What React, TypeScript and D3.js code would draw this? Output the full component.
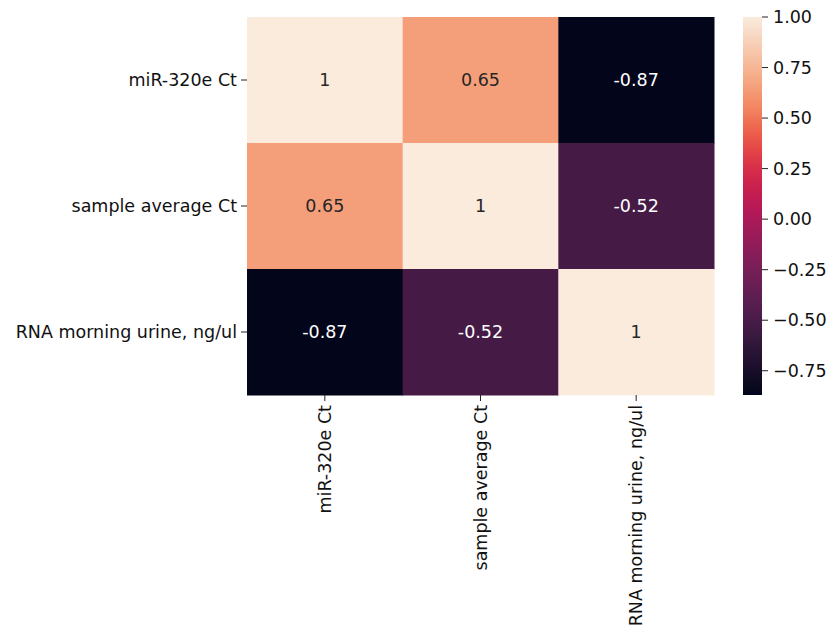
import React from "react";
import * as d3 from "d3";

const labels = ["miR-320e Ct", "sample average Ct", "RNA morning urine, ng/ul"];
const matrix = [
  [1, 0.65, -0.87],
  [0.65, 1, -0.52],
  [-0.87, -0.52, 1],
];
const cbarTicks = [1.0, 0.75, 0.5, 0.25, 0.0, -0.25, -0.5, -0.75];
const rocketStops = ["#03051A", "#221331", "#4B1D4B", "#6A1F56", "#921C5B", "#B91657", "#D92847", "#F06346", "#F59C73", "#F6C3A5", "#FAEBDD"];

const W = 838, H = 635;
const left = 247, right = 714, top = 17, bottom = 395;
const cbX = 743, cbW = 19;
const font = "DejaVu Sans, sans-serif";
const fs = 17.5;

export default function App() {
  const vmin = -0.87, vmax = 1.0;
  const interp = d3.interpolateRgbBasis(rocketStops);
  const color = (v: number) => interp((v - vmin) / (vmax - vmin));
  const x = d3.scaleBand().domain(labels).range([left, right]);
  const y = d3.scaleBand().domain(labels).range([top, bottom]);
  const cy = d3.scaleLinear().domain([vmin, vmax]).range([bottom, top]);
  const gradStops = d3.range(0, 51).map((k) => k / 50);
  const fmt = (v: number) => {
    const s = Math.abs(v).toFixed(2);
    return v < 0 ? "\u2212" + s : s;
  };
  const cellFmt = (v: number) => (v === 1 ? "1" : (v < 0 ? "-" : "") + Math.abs(v).toFixed(2));
  return (
    <svg width={W} height={H} style={{ display: "block", position: "absolute", left: 0, top: 0 }} fontFamily={font}>
      <defs>
        <linearGradient id="cbar" x1="0" y1="1" x2="0" y2="0">
          {gradStops.map((t) => (
            <stop key={t} offset={`${t * 100}%`} stopColor={interp(t)} />
          ))}
        </linearGradient>
      </defs>
      <rect width={W} height={H} fill="white" />
      {matrix.map((row, i) =>
        row.map((v, j) => {
          const t = (v - vmin) / (vmax - vmin);
          return (
            <g key={`${i}-${j}`}>
              <rect x={x(labels[j])!} y={y(labels[i])!} width={x.bandwidth() + 0.5} height={y.bandwidth() + 0.5} fill={color(v)} />
              <text
                x={x(labels[j])! + x.bandwidth() / 2}
                y={y(labels[i])! + y.bandwidth() / 2}
                textAnchor="middle"
                dominantBaseline="central"
                fontSize={fs}
                fill={t > 0.6 ? "#262626" : "#ffffff"}
              >
                {cellFmt(v)}
              </text>
            </g>
          );
        })
      )}
      {labels.map((l) => (
        <g key={"y" + l}>
          <line x1={left - 6} x2={left} y1={y(l)! + y.bandwidth() / 2} y2={y(l)! + y.bandwidth() / 2} stroke="#222" strokeWidth={1} />
          <text x={left - 10} y={y(l)! + y.bandwidth() / 2} textAnchor="end" dominantBaseline="central" fontSize={fs} fill="#111">
            {l}
          </text>
        </g>
      ))}
      {labels.map((l) => {
        const cx = x(l)! + x.bandwidth() / 2;
        return (
          <g key={"x" + l}>
            <line x1={cx} x2={cx} y1={bottom} y2={bottom + 6} stroke="#222" strokeWidth={1} />
            <text transform={`translate(${cx},${bottom + 10}) rotate(-90)`} textAnchor="end" dominantBaseline="central" fontSize={fs} fill="#111">
              {l}
            </text>
          </g>
        );
      })}
      <rect x={cbX} y={cy(vmax)} width={cbW} height={cy(vmin) - cy(vmax)} fill="url(#cbar)" />
      {cbarTicks.map((t) => (
        <g key={"t" + t}>
          <line x1={cbX + cbW} x2={cbX + cbW + 6} y1={cy(t)} y2={cy(t)} stroke="#222" strokeWidth={1} />
          <text x={cbX + cbW + 11} y={cy(t)} dominantBaseline="central" fontSize={fs} fill="#111">
            {fmt(t)}
          </text>
        </g>
      ))}
    </svg>
  );
}
